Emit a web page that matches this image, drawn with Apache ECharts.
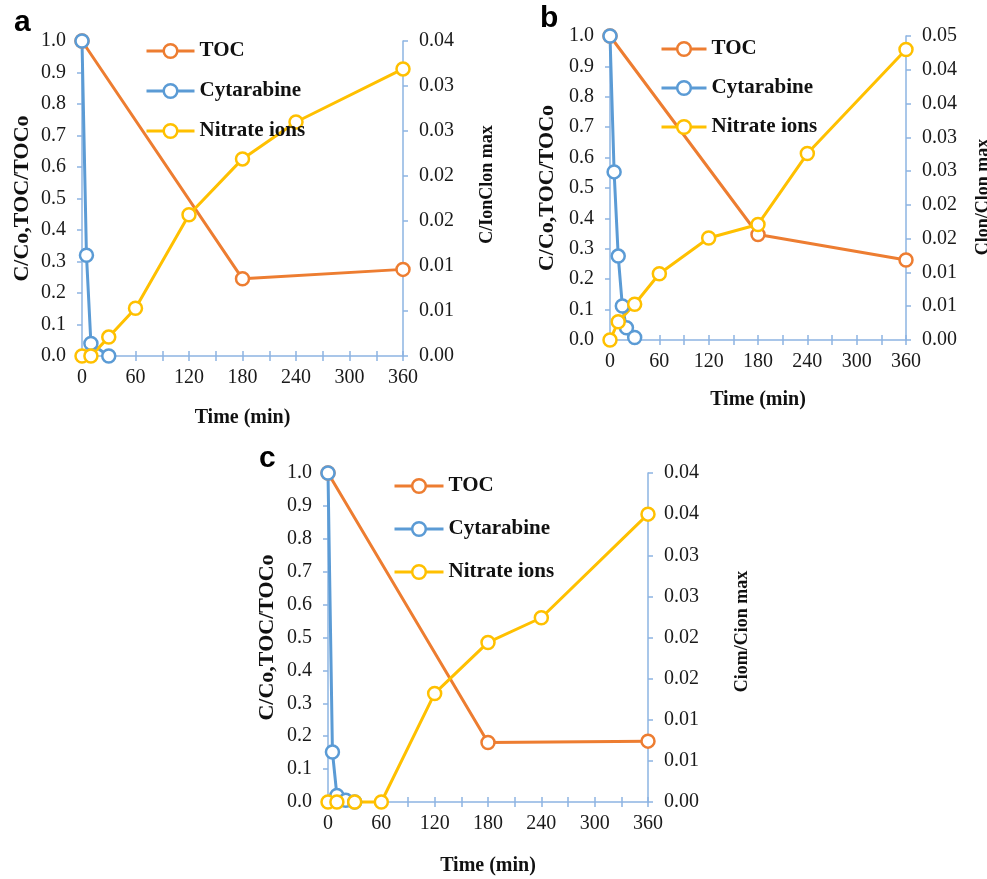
<!DOCTYPE html>
<html>
<head>
<meta charset="utf-8">
<script src="https://cdn.jsdelivr.net/npm/echarts@6/dist/echarts.min.js"></script>
<style>
  html, body { margin: 0; padding: 0; background: #fff; }
  #chart { width: 987px; height: 879px; }
</style>
</head>
<body>
<div id="chart"></div>
<script>
// data (time in min)
var tocA = [[0, 1.0], [180, 0.245], [360, 0.275]];
var cytA = [[0, 1.0], [5, 0.32], [10, 0.04], [30, 0.0]];
var nitA = [[0, 0], [10, 0], [30, 0.0021], [60, 0.0053], [120, 0.0157], [180, 0.0219], [240, 0.026], [360, 0.0319]];

var tocB = [[0, 1.0], [180, 0.347], [360, 0.263]];
var cytB = [[0, 1.0], [5, 0.553], [10, 0.276], [15, 0.112], [20, 0.04], [30, 0.008]];
var nitB = [[0, 0], [10, 0.0027], [30, 0.0053], [60, 0.0098], [120, 0.0151], [180, 0.0171], [240, 0.0276], [360, 0.043]];

var tocC = [[0, 1.0], [180, 0.181], [360, 0.185]];
var cytC = [[0, 1.0], [5, 0.152], [10, 0.02], [20, 0.005], [30, 0.0]];
var nitC = [[0, 0], [10, 0], [30, 0], [60, 0], [120, 0.0132], [180, 0.0194], [240, 0.0224], [360, 0.035]];

// right axis tick labels as printed (0.005 steps rounded to 2 decimals)
var rightLabelsA = ['0.00', '0.01', '0.01', '0.02', '0.02', '0.03', '0.03', '0.04'];
var rightLabelsB = ['0.00', '0.01', '0.01', '0.02', '0.02', '0.03', '0.03', '0.04', '0.04', '0.05'];
var rightLabelsC = ['0.00', '0.01', '0.01', '0.02', '0.02', '0.03', '0.03', '0.04', '0.04'];

var seriesNames = ['TOC', 'Cytarabine', 'Nitrate ions'];
var colors = ['#ED7D31', '#5B9BD5', '#FFC000'];

var axisColor = '#8DB4E2';
var serif = '"Liberation Serif", "DejaVu Serif", serif';

var chart = echarts.init(document.getElementById('chart'));

function xAxes(gridIndex, nameGap) {
  return [{
    type: 'value', gridIndex: gridIndex, position: 'bottom', min: 0, max: 360, interval: 60,
    name: 'Time (min)', nameLocation: 'middle', nameGap: nameGap,
    nameTextStyle: { fontFamily: serif, fontWeight: 'bold', fontSize: 20, color: '#111' },
    axisLine: { onZero: false, lineStyle: { color: axisColor, width: 1.5 } },
    axisTick: { length: 5, lineStyle: { color: axisColor, width: 1.5 } },
    minorTick: { show: true, splitNumber: 2, length: 5, lineStyle: { color: axisColor, width: 1.5 } },
    axisLabel: { fontFamily: serif, fontSize: 20, color: '#1a1a1a', margin: 12 },
    splitLine: { show: false }
  }, {
    // ghost axis so the ticks cross the axis line
    type: 'value', gridIndex: gridIndex, position: 'bottom', min: 0, max: 360, interval: 60,
    axisLine: { show: false, onZero: false },
    axisTick: { inside: true, length: 5, lineStyle: { color: axisColor, width: 1.5 } },
    minorTick: { show: true, splitNumber: 2, length: 5, lineStyle: { color: axisColor, width: 1.5 } },
    axisLabel: { show: false },
    splitLine: { show: false }
  }];
}

function yAxes(gridIndex, leftGap, rightName, rightGap, rightMax, rightLabels, rightPad) {
  return [{
    type: 'value', gridIndex: gridIndex, position: 'left', min: 0, max: 1, interval: 0.1,
    name: 'C/Co,TOC/TOCo', nameLocation: 'middle', nameGap: leftGap,
    nameTextStyle: { fontFamily: serif, fontWeight: 'bold', fontSize: 22, color: '#111' },
    axisLine: { show: true, onZero: false, lineStyle: { color: axisColor, width: 1.5 } },
    axisTick: { show: true, length: 5, lineStyle: { color: axisColor, width: 1.5 } },
    axisLabel: { fontFamily: serif, fontSize: 20, color: '#1a1a1a', margin: 16,
      formatter: function (v) { return v.toFixed(1); } },
    splitLine: { show: false }
  }, {
    type: 'value', gridIndex: gridIndex, position: 'right', min: 0, max: rightMax, interval: 0.005,
    name: rightName, nameLocation: 'middle', nameGap: rightGap,
    nameTextStyle: { fontFamily: serif, fontWeight: 'bold', fontSize: 18, color: '#111', padding: rightPad },
    axisLine: { show: true, onZero: false, lineStyle: { color: axisColor, width: 1.5 } },
    axisTick: { show: true, length: 5, lineStyle: { color: axisColor, width: 1.5 } },
    axisLabel: { fontFamily: serif, fontSize: 20, color: '#1a1a1a', margin: 16,
      formatter: function (v) { return rightLabels[Math.round(v / 0.005)]; } },
    splitLine: { show: false }
  }];
}

function lineSeries(name, color, data, xIdx, yIdx) {
  return {
    name: name, type: 'line', data: data, xAxisIndex: xIdx, yAxisIndex: yIdx,
    clip: false, symbol: 'circle', symbolSize: 13,
    lineStyle: { color: color, width: 3 },
    itemStyle: { color: '#fff', borderColor: color, borderWidth: 2.5 },
    emphasis: { disabled: true }
  };
}

function legend(left, top, gap, width) {
  return {
    orient: 'vertical', left: left, top: top, padding: 0,
    itemWidth: width, itemHeight: 17, itemGap: gap,
    data: seriesNames,
    lineStyle: { width: 3 },
    itemStyle: { borderWidth: 2.5 },
    textStyle: { fontFamily: serif, fontWeight: 'bold', fontSize: 21, lineHeight: 22, color: '#111' }
  };
}

var panels = [
  [tocA, cytA, nitA],
  [tocB, cytB, nitB],
  [tocC, cytC, nitC]
];

var series = [];
panels.forEach(function (p, i) {
  for (var k = 0; k < 3; k++) {
    series.push(lineSeries(seriesNames[k], colors[k], p[k], i * 2, i * 2 + (k === 2 ? 1 : 0)));
  }
});

var option = {
  animation: false,
  backgroundColor: '#fff',
  grid: [
    { left: 82, top: 41, width: 321, height: 315, outerBoundsMode: 'none' },
    { left: 610, top: 36, width: 296, height: 304, outerBoundsMode: 'none' },
    { left: 328, top: 473, width: 320, height: 329, outerBoundsMode: 'none' }
  ],
  xAxis: [].concat(xAxes(0, 52), xAxes(1, 50), xAxes(2, 54)),
  yAxis: [].concat(
    yAxes(0, 49, 'C/IonClon max', 75, 0.035, rightLabelsA, [0, 0, 0, 28]),
    yAxes(1, 52, 'Clon/Clon max', 68, 0.045, rightLabelsB, [0, 18, 0, 0]),
    yAxes(2, 50, 'Ciom/Cion max', 85, 0.04, rightLabelsC, [0, 0, 0, 12])
  ),
  legend: [
    legend(145, 40, 18, 48),
    legend(660, 38, 17, 45),
    legend(393, 475, 21, 49)
  ],
  graphic: [
    { type: 'text', left: 14, top: 8, style: { text: 'a', font: 'bold 30px "Liberation Sans", Arial, sans-serif', fill: '#000' } },
    { type: 'text', left: 540, top: 4, style: { text: 'b', font: 'bold 30px "Liberation Sans", Arial, sans-serif', fill: '#000' } },
    { type: 'text', left: 259, top: 444, style: { text: 'c', font: 'bold 30px "Liberation Sans", Arial, sans-serif', fill: '#000' } }
  ],
  series: series
};

chart.setOption(option);
</script>
</body>
</html>
